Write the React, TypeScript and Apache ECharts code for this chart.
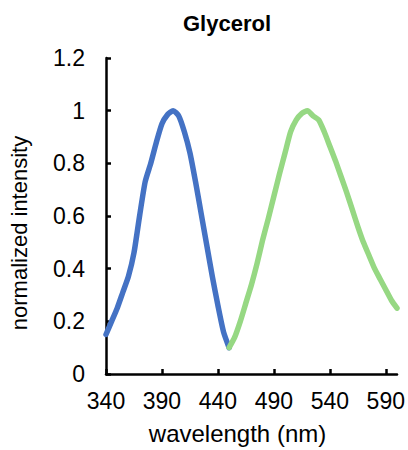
import React, { useEffect, useRef } from "react";
import * as echarts from "echarts";

const blueWavelengths = [340, 345, 350, 355, 360, 365, 370, 375, 380, 385, 390, 395, 400, 405, 410, 415, 420, 425, 430, 435, 440, 445, 450];
const blueValues = [0.15, 0.2, 0.25, 0.31, 0.37, 0.46, 0.6, 0.73, 0.8, 0.88, 0.95, 0.985, 1.0, 0.98, 0.92, 0.84, 0.73, 0.61, 0.49, 0.37, 0.26, 0.16, 0.1];

const greenWavelengths = [450, 455, 460, 465, 470, 475, 480, 485, 490, 495, 500, 505, 510, 515, 520, 525, 530, 535, 540, 545, 550, 555, 560, 565, 570, 575, 580, 585, 590, 595, 600];
const greenValues = [0.1, 0.14, 0.2, 0.27, 0.34, 0.42, 0.51, 0.59, 0.675, 0.76, 0.84, 0.92, 0.965, 0.99, 1.0, 0.98, 0.965, 0.92, 0.865, 0.81, 0.75, 0.69, 0.625, 0.56, 0.5, 0.45, 0.4, 0.36, 0.32, 0.28, 0.25];

const title = "Glycerol";
const xName = "wavelength (nm)";
const yName = "normalized intensity";

export default function App() {
  const ref = useRef<HTMLDivElement>(null);
  useEffect(() => {
    if (!ref.current) return;
    const chart = echarts.init(ref.current, null, { renderer: "svg" });
    const font = "'Liberation Sans', Arial, sans-serif";
    chart.setOption({
      animation: false,
      backgroundColor: "#ffffff",
      title: {
        text: title,
        left: 222,
        top: 7,
        textAlign: "center",
        textStyle: { fontFamily: font, fontSize: 22, fontWeight: "bold", color: "#000" },
      },
      grid: { left: 104, right: 11, top: 58, bottom: 75, containLabel: false },
      xAxis: {
        type: "value",
        min: 340,
        max: 600,
        interval: 50,
        name: xName,
        nameLocation: "middle",
        nameGap: 47,
        nameTextStyle: { fontFamily: font, fontSize: 24, color: "#000", padding: [0, 28, 0, 0] },
        axisLine: { show: true, lineStyle: { color: "#000", width: 2.5 } },
        axisTick: { show: true, inside: true, length: 5, lineStyle: { color: "#000", width: 2.5 } },
        axisLabel: {
          fontFamily: font,
          fontSize: 23,
          color: "#000",
          margin: 15,
          showMaxLabel: false,
        },
        splitLine: { show: false },
      },
      yAxis: {
        type: "value",
        min: 0,
        max: 1.2,
        interval: 0.2,
        name: yName,
        nameLocation: "middle",
        nameGap: 76,
        nameTextStyle: { fontFamily: font, fontSize: 22, color: "#000", padding: [0, 34, 0, 0] },
        axisLine: { show: true, lineStyle: { color: "#000", width: 2.5 } },
        axisTick: { show: true, inside: true, length: 5, lineStyle: { color: "#000", width: 2.5 } },
        axisLabel: { fontFamily: font, fontSize: 23, color: "#000", margin: 21 },
        splitLine: { show: false },
      },
      series: [
        {
          type: "line",
          data: blueWavelengths.map((w, i) => [w, blueValues[i]]),
          showSymbol: false,
          smooth: 0.2,
          lineStyle: { color: "#4472C4", width: 5.5, cap: "round", join: "round" },
          itemStyle: { color: "#4472C4" },
        },
        {
          type: "line",
          data: greenWavelengths.map((w, i) => [w, greenValues[i]]),
          showSymbol: false,
          smooth: 0.2,
          lineStyle: { color: "#96D883", width: 5.5, cap: "round", join: "round" },
          itemStyle: { color: "#96D883" },
        },
      ],
    });
    return () => chart.dispose();
  }, []);
  return <div ref={ref} style={{ width: 408, height: 450, position: "absolute", left: 0, top: 0 }} />;
}
